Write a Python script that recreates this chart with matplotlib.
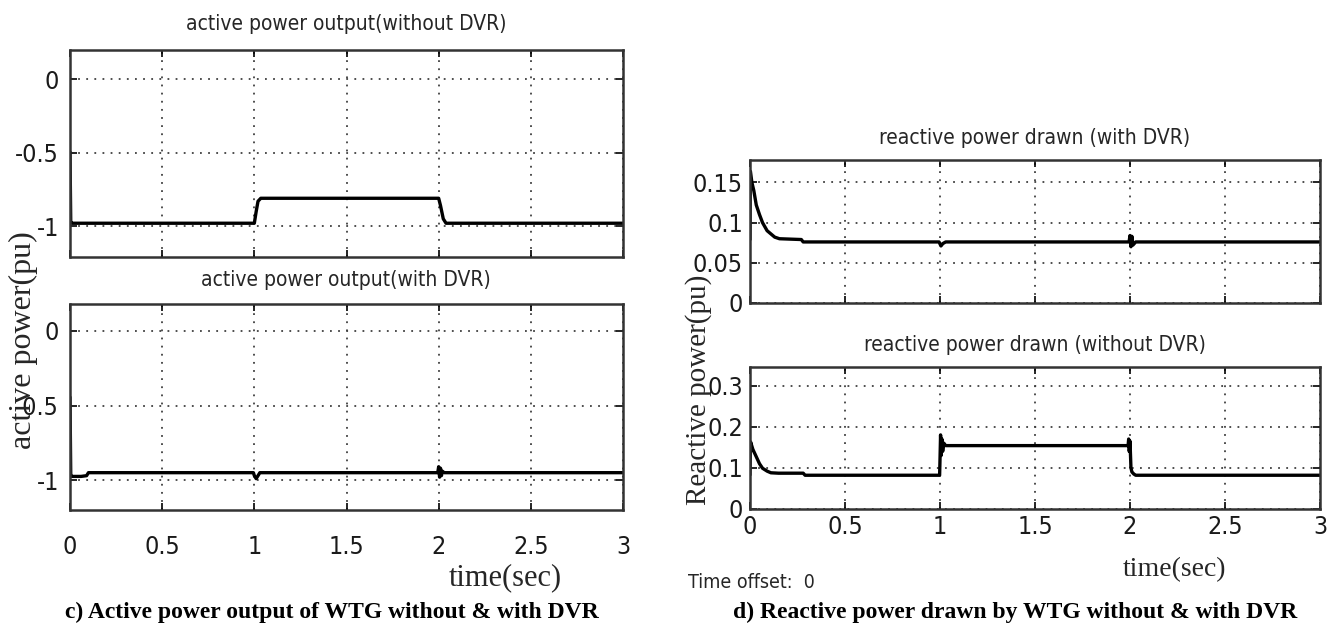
import numpy as np
import matplotlib
matplotlib.use('Agg')
import matplotlib.pyplot as plt
from matplotlib import font_manager
from matplotlib.font_manager import FontProperties

# cari font sans yang sempit (Narrow / Condensed), kalau tidak ada pakai Liberation Sans
sempit = [f.fname for f in font_manager.fontManager.ttflist
          if ('Narrow' in f.fname or 'Condensed' in f.fname)
          and not any(k in f.fname for k in ['Bold', 'Oblique', 'Italic', 'Mono', 'Serif'])]
sempit.sort()
serif = 'Liberation Serif'


def fsans(size):
    if sempit:
        return FontProperties(fname=sempit[0], size=size)
    return FontProperties(family='Liberation Sans', size=size * 0.9)


plt.rcParams['font.family'] = ['Liberation Sans', 'DejaVu Sans']

# ---------- data ----------
# active power tanpa DVR
t_p_wo = [0, 0.004, 0.01, 1.0, 1.01, 1.02, 1.035, 2.0, 2.01, 2.025, 2.04, 3.0]
p_wo = [-0.5, -0.97, -0.98, -0.98, -0.9, -0.83, -0.81, -0.81, -0.86, -0.95, -0.98, -0.98]

# active power dengan DVR
t_p_w = [0, 0.004, 0.01, 0.06, 0.09, 0.1, 0.995, 1.0, 1.01, 1.02, 1.03,
         1.995, 2.0, 2.005, 2.01, 2.015, 2.02, 2.03, 3.0]
p_w = [-0.45, -0.96, -0.975, -0.975, -0.97, -0.95, -0.95, -0.97, -0.99, -0.97, -0.95,
       -0.95, -0.91, -0.98, -0.92, -0.97, -0.94, -0.95, -0.95]

# reactive power dengan DVR
t_q_w = [0, 0.002, 0.01, 0.02, 0.033, 0.05, 0.066, 0.09, 0.11, 0.13, 0.155, 0.27, 0.28,
         0.995, 1.005, 1.015, 1.03, 1.995, 2.0, 2.005, 2.01, 2.015, 2.03, 3.0]
q_w = [0.08, 0.164, 0.15, 0.14, 0.122, 0.11, 0.100, 0.09, 0.086, 0.082, 0.080, 0.079, 0.076,
       0.076, 0.071, 0.074, 0.076, 0.076, 0.084, 0.070, 0.083, 0.072, 0.076, 0.076]

# reactive power tanpa DVR
t_q_wo = [0, 0.003, 0.015, 0.033, 0.05, 0.066, 0.09, 0.11, 0.15, 0.28, 0.29,
          0.998, 1.0, 1.003, 1.006, 1.01, 1.014, 1.02, 1.03,
          1.99, 1.993, 1.996, 2.0, 2.005, 2.01, 2.02, 2.03, 3.0]
q_wo = [0.085, 0.163, 0.145, 0.127, 0.11, 0.099, 0.092, 0.088, 0.087, 0.087, 0.082,
        0.082, 0.12, 0.18, 0.13, 0.17, 0.14, 0.16, 0.154,
        0.154, 0.17, 0.14, 0.165, 0.1, 0.09, 0.085, 0.082, 0.082]

x_ticks = [0, 0.5, 1, 1.5, 2, 2.5, 3]
x_labels = ['0', '0.5', '1', '1.5', '2', '2.5', '3']
p_ticks = [-1, -0.5, 0]
p_labels = ['-1', '-0.5', '0']
q_w_ticks = [0, 0.05, 0.1, 0.15]
q_w_labels = ['0', '0.05', '0.1', '0.15']
q_wo_ticks = [0, 0.1, 0.2, 0.3]
q_wo_labels = ['0', '0.1', '0.2', '0.3']

W, H = 1337, 635
fig = plt.figure(figsize=(W / 100, H / 100), dpi=100)


def kotak(x0, y0, x1, y1):
    # posisi axes dari koordinat piksel (y dari atas)
    return fig.add_axes([x0 / W, 1 - y1 / H, (x1 - x0) / W, (y1 - y0) / H])


def gaya(ax, yt, yl, ylim, show_x, xpad, ypad):
    ax.set_xlim(0, 3)
    ax.set_ylim(*ylim)
    ax.set_xticks(x_ticks)
    ax.set_xticklabels(x_labels if show_x else [])
    ax.set_yticks(yt)
    ax.set_yticklabels(yl)
    for lab in ax.get_xticklabels() + ax.get_yticklabels():
        lab.set_fontproperties(fsans(18))
        lab.set_color('0.1')
    ax.grid(True, color='0.25', linestyle=(0, (1, 3.5)), linewidth=1.3)
    ax.tick_params(direction='in', top=True, right=True, length=5, width=1.2)
    ax.tick_params(axis='x', pad=xpad)
    ax.tick_params(axis='y', pad=ypad)
    for s in ax.spines.values():
        s.set_linewidth(1.8)
        s.set_color('0.2')


ax1 = kotak(70, 50, 623, 257)
ax1.plot(t_p_wo, p_wo, color='black', lw=2.4)
gaya(ax1, p_ticks, p_labels, (-1.21, 0.2), False, 18, 8)

ax2 = kotak(70, 304, 623, 510)
ax2.plot(t_p_w, p_w, color='black', lw=2.4)
gaya(ax2, p_ticks, p_labels, (-1.2, 0.18), True, 18, 8)

ax3 = kotak(750, 160, 1320, 303)
ax3.plot(t_q_w, q_w, color='black', lw=2.4)
gaya(ax3, q_w_ticks, q_w_labels, (0, 0.178), False, 4, 5)

ax4 = kotak(750, 367, 1320, 509)
ax4.plot(t_q_wo, q_wo, color='black', lw=2.4)
gaya(ax4, q_wo_ticks, q_wo_labels, (0, 0.345), True, 4, 5)


def tulis(x, y, s, **kw):
    fig.text(x / W, 1 - y / H, s, ha='center', va='center', **kw)


tulis(346, 24, 'active power output(without DVR)', fontproperties=fsans(15), color='0.15')
tulis(346, 280, 'active power output(with DVR)', fontproperties=fsans(15), color='0.15')
tulis(1035, 138, 'reactive power drawn (with DVR)', fontproperties=fsans(15), color='0.15')
tulis(1035, 345, 'reactive power drawn (without DVR)', fontproperties=fsans(15), color='0.15')

tulis(23, 340, 'active power(pu)', rotation=90, fontsize=23, family=serif, color='0.15')
tulis(699, 390, 'Reactive power(pu)', rotation=90, fontsize=21, family=serif, color='0.15')
tulis(505, 578, 'time(sec)', fontsize=22, family=serif, color='0.15')
tulis(1175, 570, 'time(sec)', fontsize=20, family=serif, color='0.15')
fig.text(688 / W, 1 - 582 / H, 'Time offset:  0', ha='left', va='center',
         fontproperties=fsans(14), color='0.15')

tulis(332, 612, 'c) Active power output of WTG without & with DVR',
      fontsize=17, family=serif, fontweight='bold')
tulis(1015, 612, 'd) Reactive power drawn by WTG without & with DVR',
      fontsize=17, family=serif, fontweight='bold')

fig.savefig('out.png', dpi=100)
